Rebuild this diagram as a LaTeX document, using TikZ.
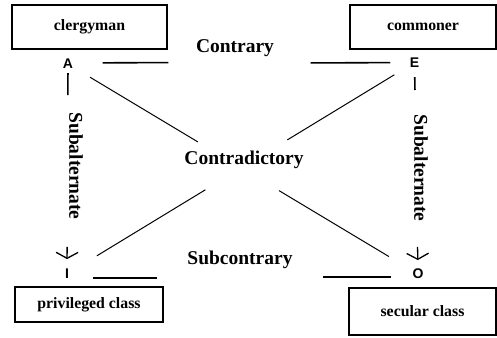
\documentclass[tikz,border=0pt]{standalone}
\usepackage{fontspec}
\setmainfont{Liberation Serif}
\newfontfamily\cornerfont{Liberation Sans}
\usetikzlibrary{calc,arrows.meta}
\tikzstyle{term} = [draw, line width=1.3pt, font=\fontsize{15.8}{18}\selectfont\bfseries]
\tikzstyle{corner} = [inner sep=0pt, font=\fontsize{14}{16}\cornerfont\bfseries]
\tikzstyle{relation} = [font=\fontsize{19.5}{22}\selectfont\bfseries]
\tikzstyle{bar} = [line width=1.6pt]
\tikzstyle{diag} = [line width=1pt]
\tikzstyle{subalt} = [line width=1.3pt, -{Straight Barb[length=6pt,width=22pt]}]

\begin{document}
\begin{tikzpicture}[x=1pt,y=-1pt]
\useasboundingbox (0,0) rectangle (497,337);
% the four terms
\node[term, minimum width=155, minimum height=44] (clergy) at (89.5,27) {clergyman};
\node[term, minimum width=146, minimum height=44] (commoner) at (423,27) {commoner};
\node[term, minimum width=148, minimum height=35] (privileged) at (89,304.5) {privileged class};
\node[term, minimum width=147, minimum height=47] (secular) at (422.5,311.5) {secular class};

\node[corner] (A) at (68,64) {A};
\node[corner] (E) at (414.5,62.5) {E};
\node[corner] (I) at (67,274) {I};
\node[corner] (O) at (418,274) {O};

\node[relation] (contrary) at (235,48) {Contrary};
\node[relation] (contradictory) at (244,160) {Contradictory};
\node[relation] (subcontrary) at (240,260) {Subcontrary};
\node[relation, rotate=-90] (subaltA) at (76,166) {Subalternate};
\node[relation, rotate=-90] (subaltE) at (421,168) {Subalternate};

% contrary and subcontrary
\draw[bar] ($(A)!.10!(E)+(0,-1)$) -- ($(A)!.29!(E)+(0,-1)$);
\draw[bar] ($(A)!.70!(E)$) -- ($(A)!.93!(E)$);
\draw[bar] ($(I)!.074!(O)+(0,4)$) -- ($(I)!.256!(O)+(0,4)$);
\draw[bar] ($(I)!.73!(O)+(0,3)$) -- ($(I)!.923!(O)+(0,3)$);

% contradictory
\draw[diag] ($(A)!.063!(O)$) -- ($(A)!.371!(O)$);
\draw[diag] ($(A)!.603!(O)$) -- ($(A)!.917!(O)$);
\draw[diag] ($(E)!.058!(I)$) -- ($(E)!.366!(I)$);
\draw[diag] ($(E)!.602!(I)$) -- ($(E)!.914!(I)$);

% subalternate
\draw[bar] ($(A)!.043!(I)$) -- ($(A)!.148!(I)$);
\draw[subalt] ($(A)!.871!(I)$) -- ($(A)!.929!(I)$);
\draw[bar] ($(E)!.069!(O)$) -- ($(E)!.13!(O)$);
\draw[subalt] ($(E)!.872!(O)$) -- ($(E)!.934!(O)$);
\end{tikzpicture}
\end{document}
